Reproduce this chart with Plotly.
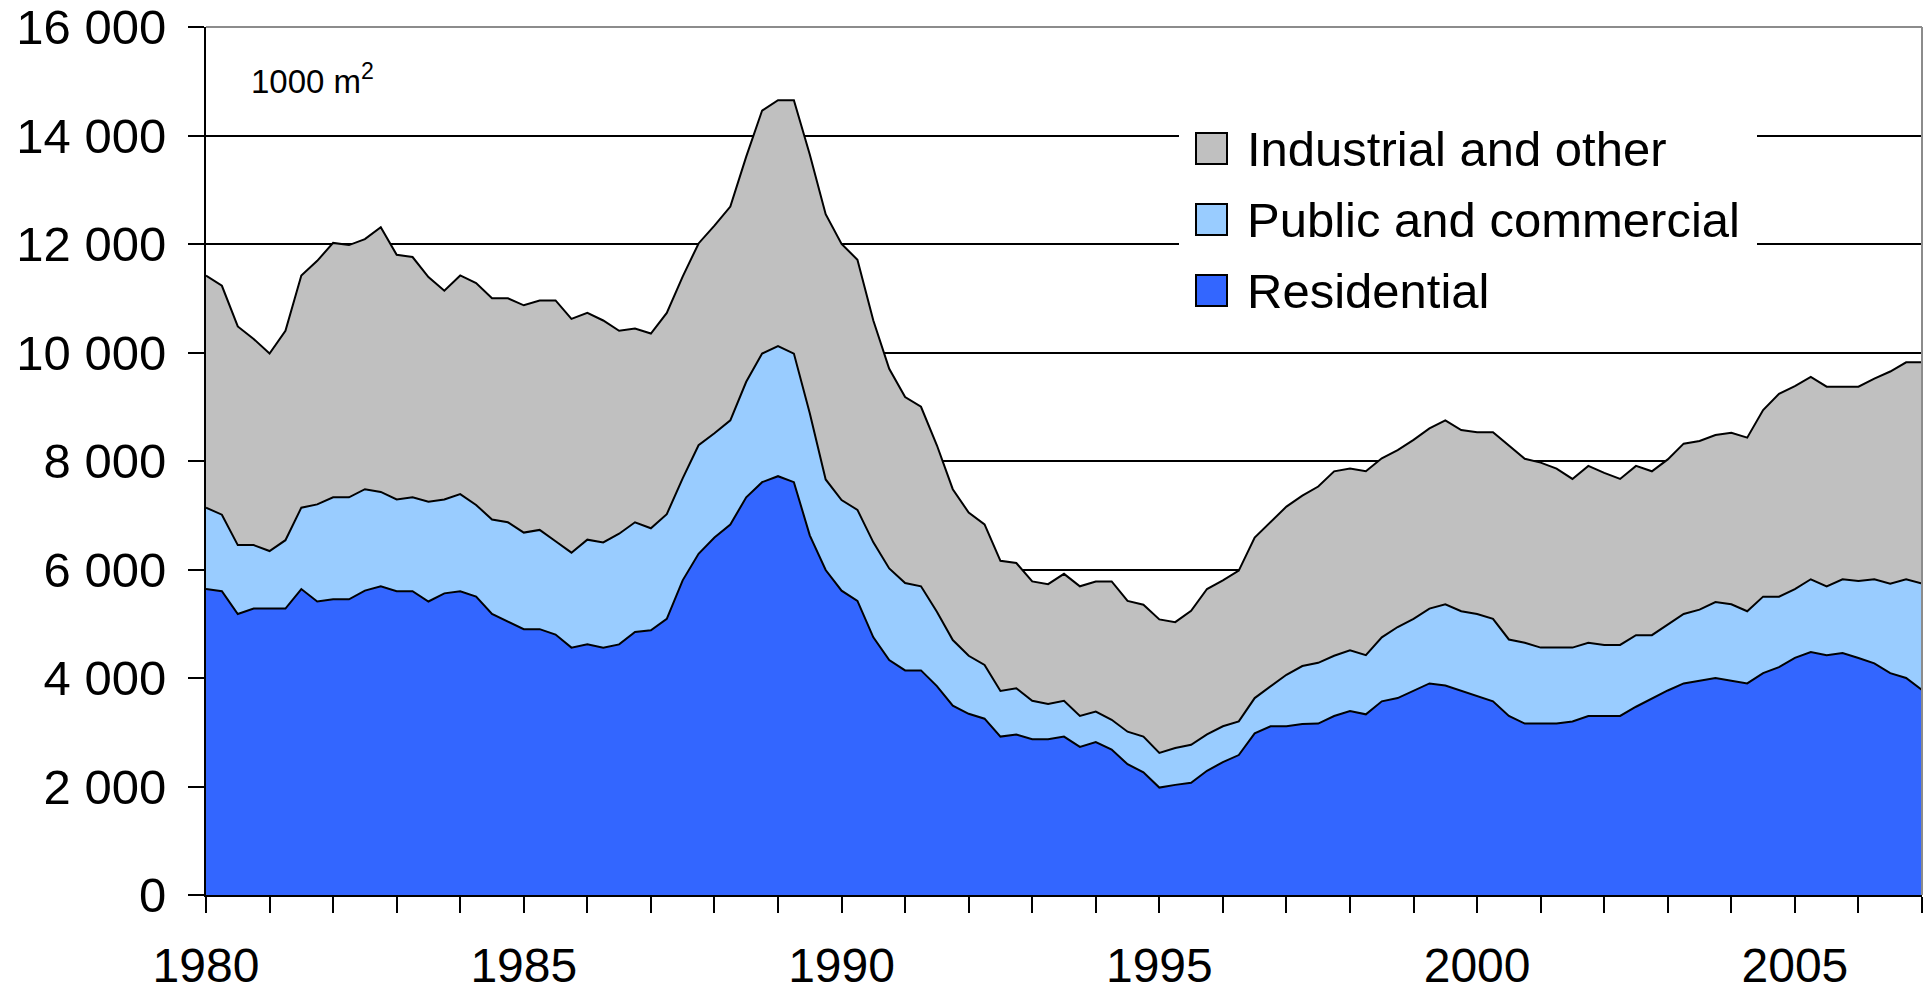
import plotly.graph_objects as go

# Quarterly data, 1980Q1 .. 2007Q1 (1000 m2)
start_year = 1980
residential = [
    5640, 5600, 5180, 5280, 5280, 5280, 5640, 5410, 5450, 5450, 5610, 5690,
    5600, 5600, 5410, 5560, 5600, 5500, 5180, 5040, 4900, 4900, 4800, 4560,
    4620, 4560, 4620, 4850, 4880, 5090, 5800, 6290, 6590, 6830, 7330, 7610,
    7720, 7610, 6630, 5990, 5610, 5420, 4750, 4330, 4140, 4140, 3850, 3490,
    3340, 3250, 2920, 2960, 2870, 2870, 2920, 2730, 2820, 2680, 2410, 2260,
    1980, 2030, 2070, 2290, 2450, 2580, 2980, 3110, 3110, 3150, 3160, 3300,
    3390, 3330, 3570, 3630, 3770, 3900, 3860, 3760, 3670, 3570, 3300, 3160,
    3160, 3160, 3200, 3300, 3300, 3300, 3470, 3620, 3770, 3900, 3950, 4000,
    3950, 3900, 4090, 4200, 4370, 4480, 4420, 4460, 4370, 4270, 4090, 4000,
    3780,
]
public_commercial = [
    1500, 1410, 1270, 1170, 1060, 1260, 1500, 1790, 1880, 1880, 1870, 1740,
    1690, 1730, 1840, 1730, 1790, 1690, 1740, 1830, 1780, 1830, 1720, 1750,
    1930, 1940, 2040, 2020, 1880, 1930, 1880, 2000, 1920, 1920, 2130, 2370,
    2400, 2370, 2250, 1670, 1670, 1680, 1750, 1690, 1610, 1550, 1370, 1210,
    1070, 990, 840, 850, 710, 650, 660, 570, 560, 550, 600, 660,
    640, 680, 700, 670, 660, 620, 650, 740, 950, 1070, 1120, 1110,
    1120, 1090, 1180, 1310, 1320, 1380, 1500, 1470, 1510, 1520, 1410, 1490,
    1400, 1400, 1360, 1350, 1310, 1310, 1320, 1170, 1220, 1280, 1310, 1400,
    1410, 1330, 1410, 1300, 1270, 1340, 1270, 1360, 1420, 1550, 1650, 1820,
    1960,
]
industrial_other = [
    4280, 4220, 4030, 3800, 3640, 3860, 4280, 4490, 4690, 4650, 4610, 4880,
    4510, 4430, 4140, 3850, 4030, 4090, 4080, 4130, 4190, 4230, 4440, 4310,
    4180, 4090, 3740, 3570, 3590, 3710, 3720, 3720, 3830, 3940, 4150, 4480,
    4530, 4670, 4770, 4890, 4720, 4610, 4090, 3680, 3430, 3310, 3070, 2780,
    2640, 2590, 2400, 2310, 2200, 2210, 2340, 2390, 2400, 2550, 2410, 2430,
    2460, 2320, 2470, 2680, 2690, 2780, 2960, 3030, 3100, 3140, 3250, 3400,
    3350, 3390, 3300, 3260, 3300, 3320, 3390, 3340, 3350, 3440, 3580, 3390,
    3410, 3300, 3110, 3260, 3170, 3060, 3120, 3020, 3040, 3140, 3110, 3080,
    3160, 3200, 3440, 3740, 3740, 3730, 3680, 3550, 3580, 3700, 3910, 4000,
    4080,
]
quarters = [start_year + i / 4 for i in range(len(residential))]

series_names = ["Residential", "Public and commercial", "Industrial and other"]
series_colors = ["#3366FF", "#99CCFF", "#C0C0C0"]
series_values = [residential, public_commercial, industrial_other]

x_label_years = [1980, 1985, 1990, 1995, 2000, 2005]
x_labels = ["1980", "1985", "1990", "1995", "2000", "2005"]
y_tick_values = [0, 2000, 4000, 6000, 8000, 10000, 12000, 14000, 16000]

FONT = "Liberation Sans, Arial, sans-serif"

fig = go.Figure()
for name, vals, color in zip(series_names, series_values, series_colors):
    fig.add_trace(go.Scatter(
        x=quarters, y=vals, name=name, stackgroup="one", mode="lines",
        line=dict(color="black", width=2), fillcolor=color, showlegend=False,
    ))

# plot area in pixels: x 206..1922, y 27..895
L, R, T, B = 206, 1922, 27, 895
def px(xpix):
    return (xpix - L) / (R - L)
def py(ypix):
    return (B - ypix) / (B - T)

fig.update_layout(
    width=1926, height=991,
    margin=dict(l=L, r=1926 - R, t=T, b=991 - B, pad=0, autoexpand=False),
    paper_bgcolor="white", plot_bgcolor="white",
    separators=". ",
    font=dict(family=FONT, size=49, color="black"),
    showlegend=False,
)
fig.update_xaxes(
    range=[1980, 2007], tickmode="array", tickvals=x_label_years, ticktext=x_labels,
    ticks="outside", ticklen=16, tickwidth=2, tickcolor="black",
    minor=dict(ticks="outside", tick0=1980, dtick=1, ticklen=16, tickwidth=2,
               tickcolor="black", showgrid=False),
    showline=True, linecolor="black", linewidth=2, automargin=False,
    showgrid=False, zeroline=False, ticklabelstandoff=11,
    tickfont=dict(family=FONT, size=48, color="black"),
)
fig.update_yaxes(
    range=[0, 16000], tickmode="array", tickvals=y_tick_values, tickformat=",d",
    ticks="outside", ticklen=16, tickwidth=2, tickcolor="black",
    showline=True, linecolor="black", linewidth=2, automargin=False,
    showgrid=True, gridcolor="black", gridwidth=2, zeroline=False,
    ticklabelstandoff=12,
    tickfont=dict(family=FONT, size=49, color="black"),
)

# gray top and right plot border
fig.add_shape(type="line", xref="paper", yref="paper", x0=0, x1=1, y0=1, y1=1,
              line=dict(color="#8c8c8c", width=2), layer="above")
fig.add_shape(type="line", xref="paper", yref="paper", x0=1, x1=1, y0=0, y1=1,
              line=dict(color="#8c8c8c", width=2), layer="above")

# legend (drawn manually: white box, squares and labels)
fig.add_shape(type="rect", xref="paper", yref="paper",
              x0=px(1179), x1=px(1757), y0=py(335), y1=py(105),
              fillcolor="white", line=dict(width=0), layer="above")
legend_order = [2, 1, 0]
row_centers = [148.5, 219.5, 290.5]
for row, idx in enumerate(legend_order):
    cy = row_centers[row]
    fig.add_shape(type="rect", xref="paper", yref="paper",
                  x0=px(1196), x1=px(1227), y0=py(cy + 15.5), y1=py(cy - 15.5),
                  fillcolor=series_colors[idx], line=dict(color="black", width=2),
                  layer="above")
    fig.add_annotation(xref="paper", yref="paper", x=px(1245), y=py(cy),
                       xanchor="left", yanchor="middle", showarrow=False,
                       text=series_names[idx],
                       font=dict(family=FONT, size=49, color="black"))

fig.add_annotation(xref="paper", yref="paper", x=px(249), y=py(79),
                   xanchor="left", yanchor="middle", showarrow=False,
                   text="1000 m<sup>2</sup>",
                   font=dict(family=FONT, size=33, color="black"))

fig.write_html("out.html", config={"displayModeBar": False},
               post_script="document.body.style.margin='0';document.body.style.overflow='hidden';")
